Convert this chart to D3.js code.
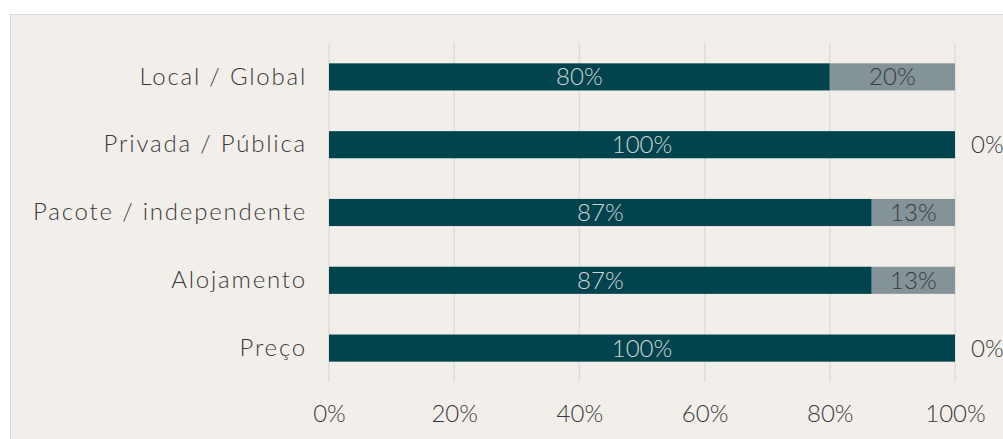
<!DOCTYPE html>
<html>
<head>
<meta charset="utf-8">
<script src="https://cdn.jsdelivr.net/npm/d3@7"></script>
<style>
  html, body { margin: 0; padding: 0; background: #ffffff; }
  svg { display: block; }
  text { font-family: "Lato", "DejaVu Sans", sans-serif; font-weight: 300; }
</style>
</head>
<body>
<svg id="chart" width="1003" height="439"></svg>
<script>
  // Données
  var categories = ["Local / Global", "Privada / Pública", "Pacote / independente", "Alojamento", "Preço"];
  var primeiro = [80, 100, 86.7, 86.7, 100];
  var segundo = [20, 0, 13.3, 13.3, 0];
  var ticks = [0, 20, 40, 60, 80, 100];

  var margin = { top: 43, left: 329, right: 48, bottom: 57 };
  var W = 1003, H = 439;
  var fs = 24;

  var svg = d3.select("#chart");

  // Fond du graphique
  svg.append("rect")
    .attr("x", 10.5).attr("y", 14.5)
    .attr("width", W).attr("height", H)
    .attr("fill", "#f2efeb")
    .attr("stroke", "#d9d9d9");

  var x = d3.scaleLinear().domain([0, 100]).range([margin.left, W - margin.right]);
  var y = d3.scaleBand().domain(categories).range([margin.top, H - margin.bottom]).paddingInner(0.6).paddingOuter(0.3);

  // Grille
  svg.append("g").selectAll("line")
    .data(ticks)
    .join("line")
    .attr("x1", d => x(d)).attr("x2", d => x(d))
    .attr("y1", margin.top).attr("y2", H - margin.bottom)
    .attr("stroke", "#dcdcdc")
    .attr("stroke-width", 1.5);

  // Axe X
  var xAxis = d3.axisBottom(x).tickValues(ticks).tickFormat(d => d + "%").tickSize(0).tickPadding(0);
  var gx = svg.append("g")
    .attr("transform", "translate(0," + (H - margin.bottom + 23) + ")")
    .call(xAxis);
  gx.select(".domain").remove();
  gx.selectAll("text").attr("font-size", fs).attr("fill", "#3a3a3a").attr("font-family", null);

  // Axe Y
  var yAxis = d3.axisLeft(y).tickSize(0).tickPadding(22);
  var gy = svg.append("g")
    .attr("transform", "translate(" + margin.left + ",0)")
    .call(yAxis);
  gy.select(".domain").remove();
  gy.selectAll("text")
    .attr("font-size", fs)
    .attr("letter-spacing", 1.8)
    .attr("fill", "#3a3a3a")
    .attr("font-family", null);

  var rows = categories.map((c, i) => ({ cat: c, a: primeiro[i], b: segundo[i] }));

  // Barres
  svg.append("g").selectAll("rect")
    .data(rows)
    .join("rect")
    .attr("x", x(0))
    .attr("y", d => y(d.cat))
    .attr("width", d => x(d.a) - x(0))
    .attr("height", y.bandwidth())
    .attr("fill", "#02444d");

  svg.append("g").selectAll("rect")
    .data(rows.filter(d => d.b > 0))
    .join("rect")
    .attr("x", d => x(d.a))
    .attr("y", d => y(d.cat))
    .attr("width", d => x(d.a + d.b) - x(d.a))
    .attr("height", y.bandwidth())
    .attr("fill", "#849397");

  // Étiquettes
  svg.append("g").selectAll("text")
    .data(rows)
    .join("text")
    .attr("x", d => (x(0) + x(d.a)) / 2)
    .attr("y", d => y(d.cat) + y.bandwidth() / 2)
    .attr("dy", "0.35em")
    .attr("text-anchor", "middle")
    .attr("font-size", fs)
    .attr("fill", "#d0d4d5")
    .text(d => Math.round(d.a) + "%");

  svg.append("g").selectAll("text")
    .data(rows)
    .join("text")
    .attr("x", d => d.b > 0 ? (x(d.a) + x(d.a + d.b)) / 2 : x(100) + 16)
    .attr("y", d => y(d.cat) + y.bandwidth() / 2)
    .attr("dy", "0.35em")
    .attr("text-anchor", d => d.b > 0 ? "middle" : "start")
    .attr("font-size", fs)
    .attr("fill", "#3a3a3a")
    .text(d => Math.round(d.b) + "%");
</script>
</body>
</html>
